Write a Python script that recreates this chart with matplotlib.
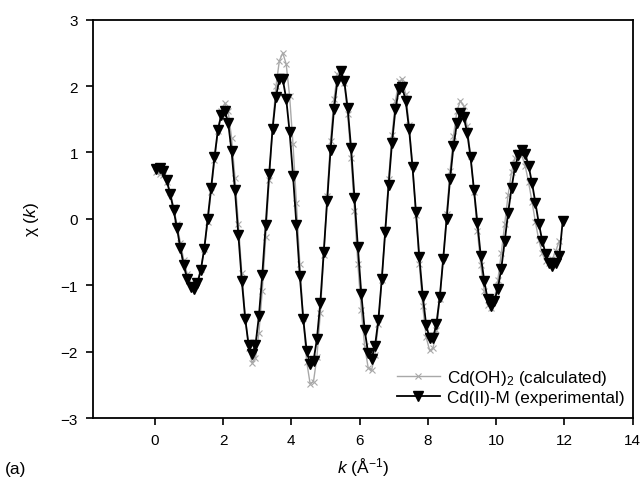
import numpy as np
import matplotlib
matplotlib.use('Agg')
import matplotlib.pyplot as plt

plt.rcParams['font.family'] = ['Liberation Sans', 'DejaVu Sans']
plt.rcParams['mathtext.fontset'] = 'custom'
plt.rcParams['mathtext.rm'] = 'Liberation Sans'
plt.rcParams['mathtext.it'] = 'Liberation Sans:italic'

# k grid (Å^-1), shared by both spectra
k = [0.05, 0.15, 0.25, 0.35, 0.45, 0.55, 0.65, 0.75, 0.85, 0.95,
     1.05, 1.15, 1.25, 1.35, 1.45, 1.55, 1.65, 1.75, 1.85, 1.95,
     2.05, 2.15, 2.25, 2.35, 2.45, 2.55, 2.65, 2.75, 2.85, 2.95,
     3.05, 3.15, 3.25, 3.35, 3.45, 3.55, 3.65, 3.75, 3.85, 3.95,
     4.05, 4.15, 4.25, 4.35, 4.45, 4.55, 4.65, 4.75, 4.85, 4.95,
     5.05, 5.15, 5.25, 5.35, 5.45, 5.55, 5.65, 5.75, 5.85, 5.95,
     6.05, 6.15, 6.25, 6.35, 6.45, 6.55, 6.65, 6.75, 6.85, 6.95,
     7.05, 7.15, 7.25, 7.35, 7.45, 7.55, 7.65, 7.75, 7.85, 7.95,
     8.05, 8.15, 8.25, 8.35, 8.45, 8.55, 8.65, 8.75, 8.85, 8.95,
     9.05, 9.15, 9.25, 9.35, 9.45, 9.55, 9.65, 9.75, 9.85, 9.95,
     10.05, 10.15, 10.25, 10.35, 10.45, 10.55, 10.65, 10.75, 10.85, 10.95,
     11.05, 11.15, 11.25, 11.35, 11.45, 11.55, 11.65, 11.75, 11.85, 11.95]

# Cd(II)-M experimental chi(k)
chi_exp = [0.75, 0.76, 0.72, 0.58, 0.38, 0.14, -0.14, -0.44, -0.70, -0.90,
           -1.02, -1.05, -0.97, -0.77, -0.45, 0.00, 0.46, 0.93, 1.34, 1.57,
           1.63, 1.45, 1.02, 0.43, -0.25, -0.93, -1.51, -1.90, -2.04, -1.90,
           -1.47, -0.84, -0.09, 0.67, 1.35, 1.84, 2.10, 2.10, 1.81, 1.31,
           0.65, -0.09, -0.86, -1.51, -1.99, -2.19, -2.14, -1.81, -1.26, -0.50,
           0.27, 1.04, 1.65, 2.08, 2.22, 2.08, 1.67, 1.07, 0.32, -0.43,
           -1.13, -1.68, -2.02, -2.11, -1.92, -1.52, -0.91, -0.20, 0.51, 1.15,
           1.65, 1.95, 1.98, 1.78, 1.35, 0.78, 0.11, -0.58, -1.16, -1.60,
           -1.80, -1.80, -1.58, -1.17, -0.60, 0.00, 0.60, 1.09, 1.44, 1.60,
           1.54, 1.30, 0.93, 0.44, -0.06, -0.56, -0.93, -1.21, -1.31, -1.23,
           -1.05, -0.75, -0.34, 0.09, 0.46, 0.78, 0.96, 1.04, 0.98, 0.80,
           0.54, 0.24, -0.07, -0.33, -0.53, -0.66, -0.71, -0.66, -0.56, -0.03]

# Cd(OH)2 calculated chi(k), ends one point earlier
chi_calc = [0.70, 0.68, 0.66, 0.55, 0.40, 0.18, -0.08, -0.36, -0.62, -0.83,
            -0.96, -1.00, -0.94, -0.75, -0.45, -0.05, 0.40, 0.88, 1.32, 1.62,
            1.74, 1.62, 1.22, 0.62, -0.08, -0.82, -1.47, -1.94, -2.17, -2.10,
            -1.72, -1.08, -0.28, 0.58, 1.38, 2.00, 2.38, 2.50, 2.33, 1.85,
            1.12, 0.24, -0.68, -1.50, -2.15, -2.48, -2.45, -2.08, -1.42, -0.55,
            0.35, 1.18, 1.80, 2.18, 2.25, 2.05, 1.58, 0.92, 0.12, -0.68,
            -1.38, -1.92, -2.24, -2.28, -2.05, -1.58, -0.92, -0.15, 0.60, 1.26,
            1.78, 2.07, 2.10, 1.88, 1.42, 0.80, 0.06, -0.68, -1.32, -1.78,
            -1.98, -1.95, -1.68, -1.20, -0.58, 0.08, 0.72, 1.25, 1.62, 1.78,
            1.70, 1.40, 0.95, 0.40, -0.18, -0.70, -1.08, -1.30, -1.34, -1.20,
            -0.92, -0.52, -0.08, 0.36, 0.70, 0.92, 1.00, 0.96, 0.80, 0.55,
            0.26, -0.05, -0.32, -0.52, -0.64, -0.66, -0.60, -0.48, -0.33]

xticks = [0, 2, 4, 6, 8, 10, 12, 14]
yticks = [-3, -2, -1, 0, 1, 2, 3]

fig = plt.figure(figsize=(6.43, 4.89), dpi=100)
ax = fig.add_axes([0.1451, 0.1431, 0.8389, 0.8146])

ax.plot(k[:len(chi_calc)], chi_calc, color='#a8a8a8', linewidth=1.0,
        marker='x', markersize=4, markeredgewidth=0.8,
        label='Cd(OH)$_2$ (calculated)')
ax.plot(k, chi_exp, color='black', linewidth=1.3,
        marker='v', markersize=7,
        label='Cd(II)-M (experimental)')

ax.set_xlim(-1.8, 14)
ax.set_ylim(-3, 3)
ax.set_xticks(xticks)
ax.set_yticks(yticks)
ax.tick_params(direction='out', length=5, width=1.2, labelsize=11, pad=6)
ax.tick_params(top=False, right=False)
for sp in ax.spines.values():
    sp.set_linewidth(1.3)

ax.set_xlabel('$k$ (Å$^{-1}$)', fontsize=12.5, labelpad=6)
ax.set_ylabel('χ ($k$)', fontsize=12.5, labelpad=14)
fig.text(0.008, 0.03, '(a)', fontsize=12.5)

ax.legend(loc='lower right', bbox_to_anchor=(1.0, 0.012), frameon=False,
          fontsize=12.3, handlelength=2.5, handletextpad=0.4,
          labelspacing=0.15, borderaxespad=0.1)

fig.savefig('out.png', dpi=100)
